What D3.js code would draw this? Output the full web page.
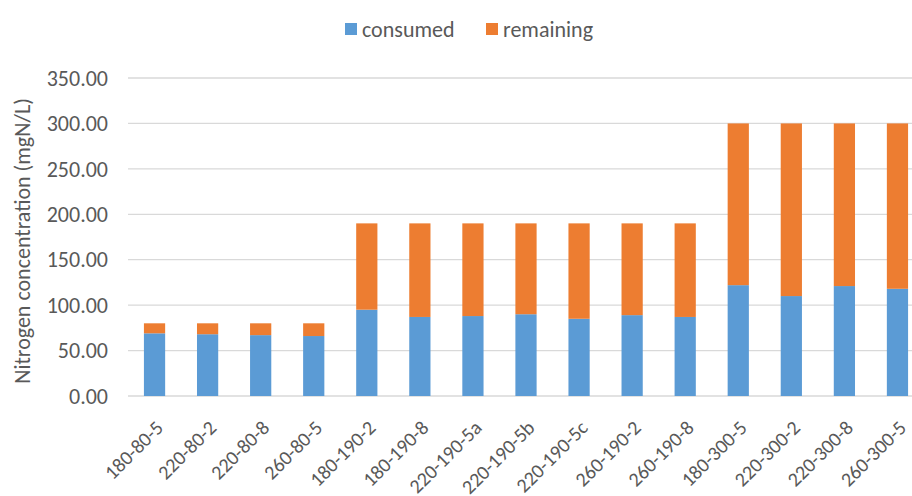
<!DOCTYPE html>
<html>
<head>
<meta charset="utf-8">
<script src="https://cdn.jsdelivr.net/npm/d3@7"></script>
<style>
  body { margin: 0; background: #fff; }
  svg { display: block; font-family: Carlito, "Open Sans", "Liberation Sans", sans-serif; }
</style>
</head>
<body>
<div id="chart"></div>
<script>
// datos
const samples = ["180-80-5", "220-80-2", "220-80-8", "260-80-5", "180-190-2", "180-190-8",
                 "220-190-5a", "220-190-5b", "220-190-5c", "260-190-2", "260-190-8",
                 "180-300-5", "220-300-2", "220-300-8", "260-300-5"];
const consumed = [69, 68, 67, 66, 95, 87, 88, 90, 85, 89, 87, 122, 110, 121, 118];
const remaining = [11, 12, 13, 14, 95, 103, 102, 100, 105, 101, 103, 178, 190, 179, 182];
const yTicks = [0, 50, 100, 150, 200, 250, 300, 350];
const seriesNames = ["consumed", "remaining"];
const colors = ["#5B9BD5", "#ED7D31"];

const width = 912, height = 496;
const margin = { top: 78, right: -12, bottom: 100, left: 128 };

const svg = d3.select('#chart')
              .append('svg')
              .attr('width', width)
              .attr('height', height);

const x = d3.scaleBand()
            .domain(samples)
            .range([margin.left, width - margin.right])
            .paddingInner(0.6)
            .paddingOuter(0.3);

const y = d3.scaleLinear()
            .domain([0, 350])
            .range([height - margin.bottom, margin.top]);

// lineas de la grilla
svg.append('g')
   .selectAll('line')
   .data(yTicks)
   .join('line')
   .attr('x1', margin.left)
   .attr('x2', width)
   .attr('y1', d => y(d))
   .attr('y2', d => y(d))
   .attr('stroke', '#D9D9D9')
   .attr('stroke-width', 1.3);

svg.append('g')
   .selectAll('text')
   .data(yTicks)
   .join('text')
   .attr('x', 108)
   .attr('y', d => y(d))
   .attr('dy', '0.35em')
   .attr('text-anchor', 'end')
   .attr('font-size', '22px')
   .attr('fill', '#595959')
   .text(d => d.toFixed(2));

const rows = samples.map((s, i) => ({ sample: s, consumed: consumed[i], remaining: remaining[i] }));
const stacked = d3.stack().keys(seriesNames)(rows);

svg.append('g')
   .selectAll('g')
   .data(stacked)
   .join('g')
   .attr('fill', (d, i) => colors[i])
   .selectAll('rect')
   .data(d => d)
   .join('rect')
   .attr('x', d => x(d.data.sample))
   .attr('width', x.bandwidth())
   .attr('y', d => y(d[1]))
   .attr('height', d => y(d[0]) - y(d[1]));

// etiquetas del eje x, rotadas
svg.append('g')
   .selectAll('text')
   .data(samples)
   .join('text')
   .attr('transform', d => `translate(${x(d) + x.bandwidth() / 2 + 10}, ${height - margin.bottom + 33}) rotate(-45)`)
   .attr('text-anchor', 'end')
   .attr('font-size', '20px')
   .attr('fill', '#595959')
   .text(d => d);

svg.append('text')
   .attr('transform', `translate(30, 241) rotate(-90)`)
   .attr('text-anchor', 'middle')
   .attr('font-size', '22px')
   .attr('fill', '#595959')
   .text('Nitrogen concentration (mgN/L)');

// leyenda
const legend = svg.append('g');
const legendX = [345, 486];
seriesNames.forEach((name, i) => {
    legend.append('rect')
          .attr('x', legendX[i])
          .attr('y', 23)
          .attr('width', 12)
          .attr('height', 12)
          .attr('fill', colors[i]);
    legend.append('text')
          .attr('x', legendX[i] + 17)
          .attr('y', 37)
          .attr('font-size', '22px')
          .attr('fill', '#595959')
          .text(name);
});
</script>
</body>
</html>
